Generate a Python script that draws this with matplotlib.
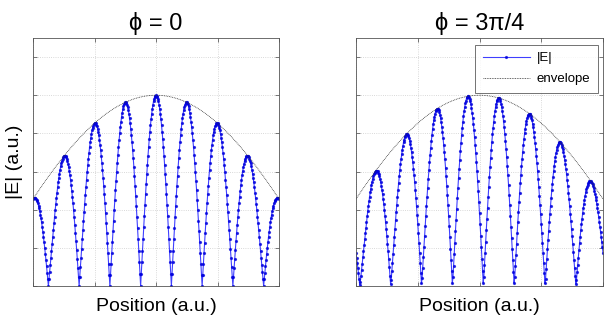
import numpy as np
import matplotlib
matplotlib.use("Agg")
import matplotlib.pyplot as plt

plt.rcParams["font.family"] = ["Liberation Sans", "DejaVu Sans"]

# values
titles = ["\u03d5 = 0", "\u03d5 = 3\u03c0/4"]
phases = [0.0, 3 * np.pi / 4]
n_points = 401          # samples over the window
n_lobes = 8             # half-periods across the window
env_peak = 1.0          # envelope at the centre
env_edge = 0.456        # envelope at both window edges
y_ticks = [0, 0.2, 0.4, 0.6, 0.8, 1.0, 1.2]
x_ticks = [-1, -0.5, 0, 0.5, 1]

pos = np.linspace(-1, 1, n_points)
env = env_peak * np.cos(np.arccos(env_edge / env_peak) * pos)

fig = plt.figure(figsize=(6.09, 3.23), dpi=100)
boxes = [[33/609, 1 - 286/323, 246/609, 248/323],
         [356/609, 1 - 286/323, 247/609, 248/323]]

for i in range(2):
    ax = fig.add_axes(boxes[i])
    field = env * np.abs(np.cos(n_lobes * np.pi / 2 * pos + phases[i] / 2))
    ax.plot(pos, field, color="#0000ff", lw=0.8, alpha=0.75,
            marker=".", ms=2.6, mfc="#0000dd", mec="#0000dd", label="|E|")
    ax.plot(pos, env, color="#333333", ls=(0, (1, 1)), lw=0.6, label="envelope")
    ax.set_xlim(-1, 1)
    ax.set_ylim(0, 1.3)
    ax.set_xticks(x_ticks)
    ax.set_yticks(y_ticks)
    ax.set_xticklabels([])
    ax.set_yticklabels([])
    ax.tick_params(direction="in", length=3, width=0.5, top=True, right=True, color="#444444")
    ax.grid(True, color="#cccccc", ls=":", lw=0.6)
    for s in ax.spines.values():
        s.set_linewidth(0.6)
        s.set_color("#555555")
    ax.set_title(titles[i], fontsize=17, pad=6)
    ax.set_xlabel("Position (a.u.)", fontsize=14, labelpad=5)
    if i == 0:
        ax.set_ylabel("|E| (a.u.)", fontsize=14, labelpad=4)
    else:
        leg = ax.legend(loc="upper right", bbox_to_anchor=(0.978, 0.972), fontsize=9.5,
                        frameon=True, fancybox=False, borderaxespad=0, handlelength=3.6,
                        borderpad=0.55, labelspacing=0.65, handletextpad=0.5)
        leg.get_frame().set_edgecolor("#333333")
        leg.get_frame().set_linewidth(0.6)

fig.savefig("out.png", dpi=100)
